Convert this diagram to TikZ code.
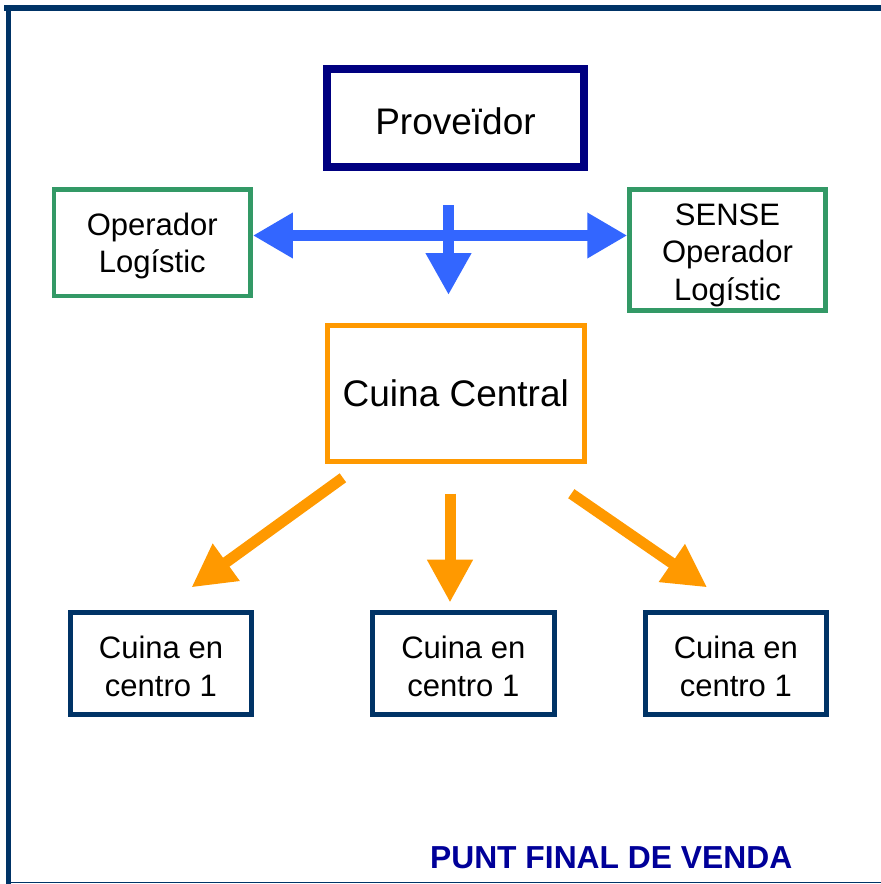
\documentclass[tikz,border=0pt]{standalone}
\usepackage{fontspec}
\setmainfont{Liberation Sans}
\usetikzlibrary{arrows.meta}
\definecolor{navyline}{HTML}{000080}
\definecolor{greenline}{HTML}{339966}
\definecolor{blueflow}{HTML}{3366FF}
\definecolor{orangeflow}{HTML}{FF9900}
\definecolor{darkblue}{HTML}{003366}
\definecolor{labelblue}{HTML}{000099}
\begin{document}
\begin{tikzpicture}[x=1pt,y=-1pt,
  % text depth 0 + text height = cap height (+ extra lines) keeps the caps centred
  bigtext/.style={font=\fontsize{37}{44}\selectfont, inner sep=2pt, text depth=0pt},
  smalltext/.style={align=center, inner sep=2pt, text depth=0pt},
  provbox/.style={draw=navyline, line width=8pt, minimum width=257pt, minimum height=98pt, bigtext, text height=32.3pt},
  oplbox/.style={draw=greenline, line width=4.5pt, smalltext},
  centralbox/.style={draw=orangeflow, line width=5pt, minimum width=256.7pt, minimum height=135.7pt, bigtext, text height=26.5pt},
  kitchenbox/.style={draw=darkblue, line width=5pt, minimum width=181.5pt, minimum height=102pt, smalltext,
    font=\fontsize{31}{38.7}\selectfont, text height=66.1pt},
  blueflowarrow/.style={blueflow, line width=11pt},
  orangeflowarrow/.style={orangeflow, line width=11pt, -{Triangle[length=43pt,width=43pt]}},
  framerule/.style={darkblue}
]
\useasboundingbox (0,0) rectangle (881,884);
% outer frame
\draw[framerule, line width=5.5pt] (4,8) -- (881,8);
\draw[framerule, line width=4.5pt] (8.5,5) -- (8.5,884);
\draw[framerule, line width=1.5pt] (11,882.5) -- (881,882.5);

% nodes
\node[provbox] (prov) at (455.5,118) {Proveïdor};
\node[oplbox, minimum width=196.7pt, minimum height=106.5pt,
  font=\fontsize{31}{37}\selectfont, text height=60.2pt] (opl) at (152.3,242.5) {Operador\\Logístic};
\node[oplbox, minimum width=196pt, minimum height=121pt,
  font=\fontsize{31}{37.5}\selectfont, text height=100pt] (sense) at (727.5,250) {SENSE\\Operador\\Logístic};
\node[centralbox] (cc) at (455.8,393.6) {Cuina Central};
\node[kitchenbox] (k1) at (161,663.7) {Cuina en\\centro 1};
\node[kitchenbox] (k2) at (463.3,663.7) {Cuina en\\centro 1};
\node[kitchenbox] (k3) at (735.8,663.7) {Cuina en\\centro 1};
\node[font=\fontsize{31.8}{38}\selectfont\bfseries, text=labelblue, inner sep=0pt,
  text height=22.8pt, text depth=0pt] (pfv) at (611.2,857.2) {PUNT FINAL DE VENDA};

% supplier distribution
\draw[blueflowarrow, {Triangle[length=40pt,width=43pt]}-{Triangle[length=40pt,width=43pt]}]
  ([yshift=7pt]opl.east) -- ([yshift=14.5pt]sense.west);
\draw[blueflowarrow, -{Triangle[length=42pt,width=43pt]}]
  ([xshift=-7pt,yshift=-34pt]prov.south) -- ([xshift=-7.3pt,yshift=28.25pt]cc.north);

% central kitchen distribution
\draw[orangeflowarrow] ([shift={(-112.9pt,-13.85pt)}]cc.south) -- ([shift={(30.4pt,22.8pt)}]k1.north);
\draw[orangeflowarrow] ([shift={(-5.8pt,-29.65pt)}]cc.south) -- ([shift={(-13.3pt,7.6pt)}]k2.north);
\draw[orangeflowarrow] ([shift={(115.5pt,-29.75pt)}]cc.south) -- ([shift={(-28.6pt,22.8pt)}]k3.north);
\end{tikzpicture}
\end{document}
